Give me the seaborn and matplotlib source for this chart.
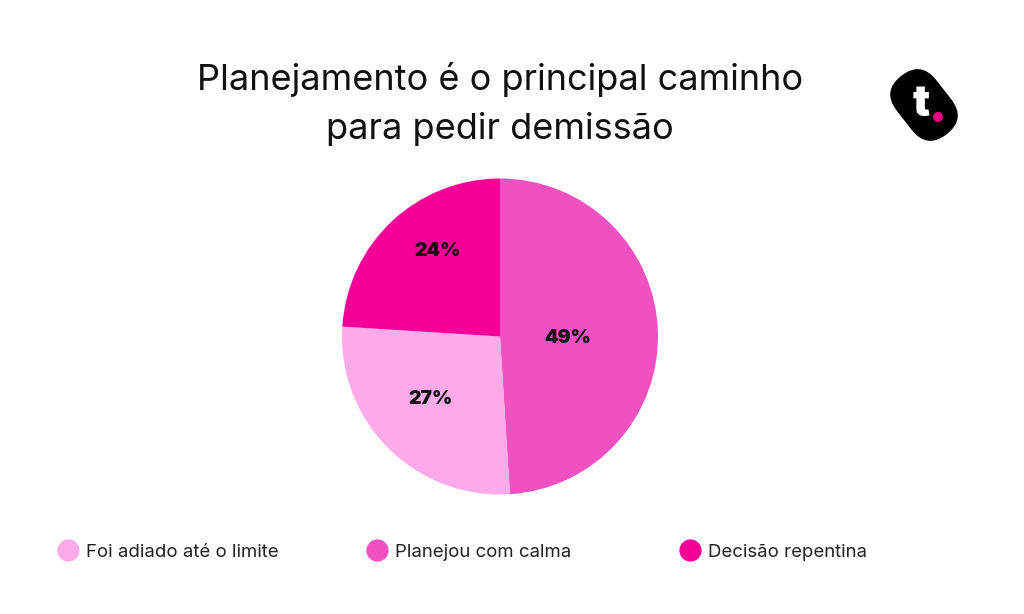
import matplotlib
matplotlib.use("Agg")
import numpy as np
import matplotlib.pyplot as plt
import seaborn as sns
from matplotlib.lines import Line2D
from matplotlib.patches import FancyBboxPatch, Circle
from matplotlib.transforms import Affine2D

# =========================
# DATA
# =========================
categories = ["Planejou com calma", "Foi adiado até o limite", "Decisão repentina"]
values = [49, 27, 24]
legend_order = ["Foi adiado até o limite", "Planejou com calma", "Decisão repentina"]

colors = {
    "Planejou com calma": "#f050c0",
    "Foi adiado até o limite": "#fcaaea",
    "Decisão repentina": "#f6009a",
}
# label placement inside each wedge (fraction of radius, angle nudge in degrees)
label_radius = [0.43, 0.59, 0.67]
label_nudge = [-3, -3, -7]

TITLE = "Planejamento é o principal caminho\npara pedir demissão"

# =========================
# SETTINGS
# =========================
sns.set_theme(style="white")
plt.rcParams["font.family"] = ["Inter", "DejaVu Sans"]

W, H = 1024, 614
fig = plt.figure(figsize=(W / 100, H / 100), dpi=100)
fig.patch.set_facecolor("white")

# pie axes (square, placed in pixels)
cx, cy, r = 500, 336.5, 158
ax = fig.add_axes([(cx - r) / W, (H - cy - r) / H, 2 * r / W, 2 * r / H])

wedges, _ = ax.pie(
    values,
    colors=[colors[c] for c in categories],
    startangle=90,
    counterclock=False,
    radius=1,
    wedgeprops=dict(linewidth=0),
)
ax.set_xlim(-1, 1)
ax.set_ylim(-1, 1)
ax.set_aspect("equal")
ax.axis("off")

for w, v, d, n in zip(wedges, values, label_radius, label_nudge):
    ang = np.deg2rad((w.theta1 + w.theta2) / 2 + n)
    ax.text(d * np.cos(ang), d * np.sin(ang), f"{v}%",
            ha="center", va="center", fontsize=14, fontweight="black",
            color="#111111")

# title
fig.text(cx / W, 1 - 104 / H, TITLE, ha="center", va="center",
         fontsize=26, color="#111111", linespacing=1.55)

# legend: one entry per slot so the spacing follows the reference
legend_x = [57, 366, 679]
for c, lx in zip(legend_order, legend_x):
    h = Line2D([0], [0], marker="o", linestyle="none", markersize=16,
               markerfacecolor=colors[c], markeredgewidth=0, label=c)
    fig.legend(handles=[h], loc="center left",
               bbox_to_anchor=(lx / W, 1 - 552 / H), frameon=False,
               fontsize=13.4, labelcolor="#222222", handletextpad=0.35,
               handlelength=1.2, borderpad=0, borderaxespad=0)

# logo
lax = fig.add_axes([880 / W, 1 - 150 / H, 90 / W, 95 / H])
lax.set_xlim(880, 970)
lax.set_ylim(150, 55)
lax.axis("off")
lcx, lcy = 924, 105
pill = FancyBboxPatch((lcx - 37, lcy - 25), 74, 50,
                      boxstyle="round,pad=0,rounding_size=25",
                      facecolor="black", edgecolor="none")
pill.set_transform(Affine2D().rotate_deg_around(lcx, lcy, 52) + lax.transData)
lax.add_patch(pill)
lax.text(921, 104, "t", color="white", fontsize=31, fontweight="black",
         ha="center", va="center")
lax.add_patch(Circle((938, 117), 5, facecolor="#e6007e", edgecolor="none"))

fig.savefig("out.png", dpi=100, facecolor="white")
